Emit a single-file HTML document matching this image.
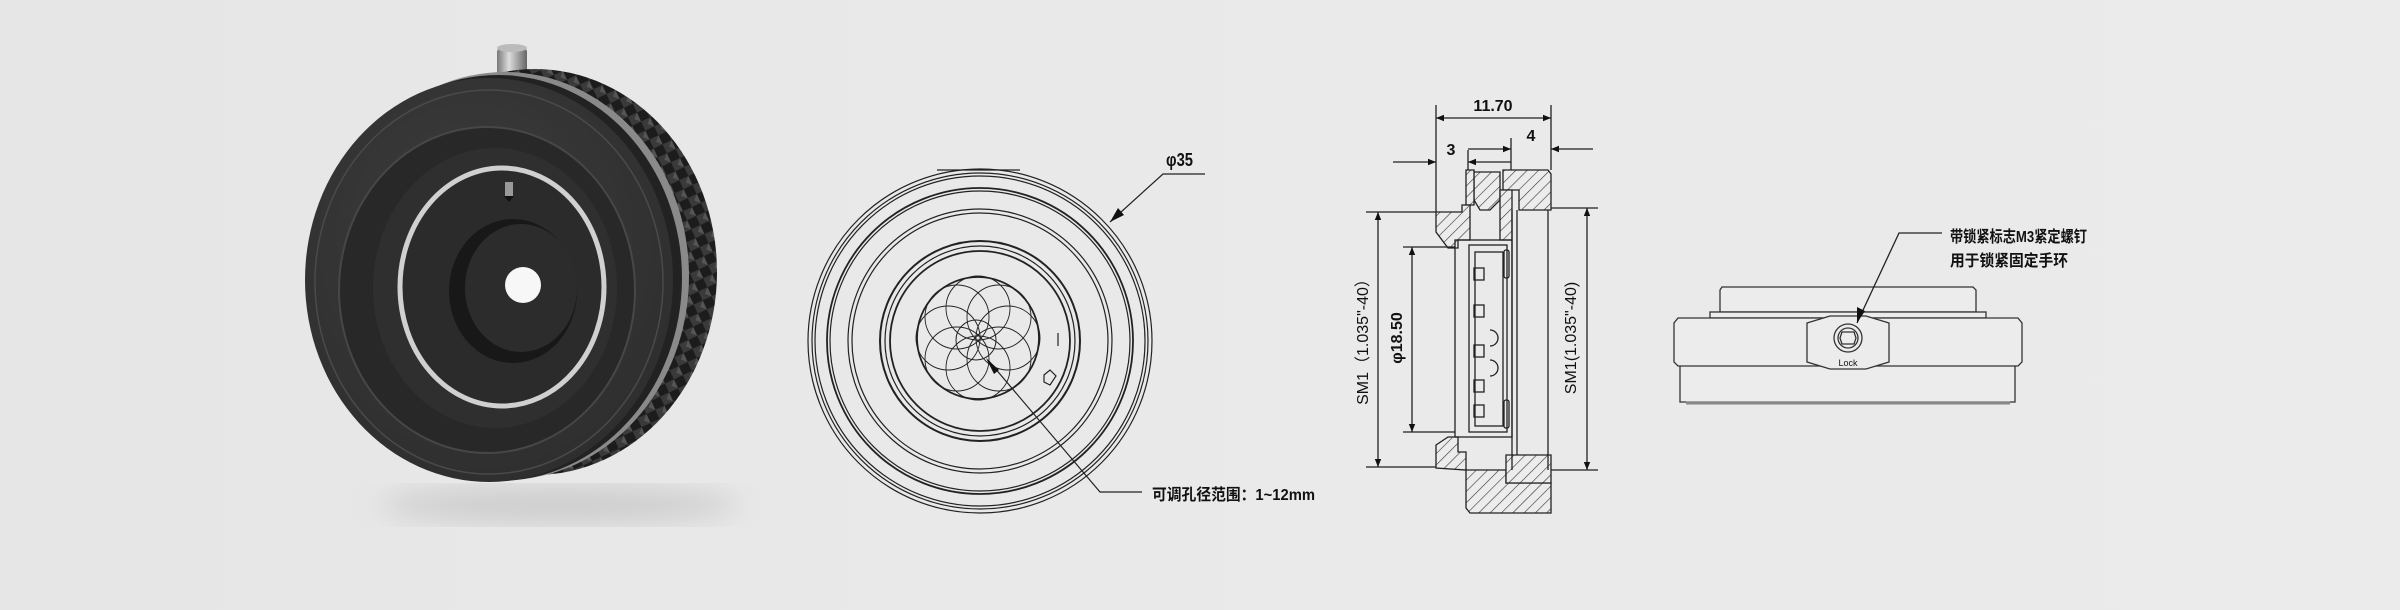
<!DOCTYPE html>
<html><head><meta charset="utf-8"><style>
html,body{margin:0;padding:0;background:#e9e9e9;}
svg{display:block}
text{font-family:"Liberation Sans","Noto Sans CJK SC",sans-serif;fill:#111;}
</style></head><body>
<svg width="2400" height="610" viewBox="0 0 2400 610" xmlns="http://www.w3.org/2000/svg">
<defs>
<linearGradient id="bg" x1="0" x2="1" y1="0" y2="0"><stop offset="0" stop-color="#e6e6e6"/><stop offset="0.4" stop-color="#e9e9e9"/><stop offset="1" stop-color="#ebebeb"/></linearGradient>
<radialGradient id="face" cx="0.45" cy="0.4" r="0.7"><stop offset="0" stop-color="#3e3e3e"/><stop offset="1" stop-color="#2c2c2c"/></radialGradient>
<linearGradient id="pin" x1="0" x2="1"><stop offset="0" stop-color="#777"/><stop offset="0.4" stop-color="#ddd"/><stop offset="1" stop-color="#666"/></linearGradient>
<pattern id="knurl" width="14" height="14" patternUnits="userSpaceOnUse" patternTransform="rotate(20)"><rect width="14" height="14" fill="#1c1c1c"/><path d="M0 7 L7 0 L14 7 L7 14 Z" fill="#3a3a3a"/><path d="M7 0 L14 7 L7 7Z" fill="#555"/></pattern>
<pattern id="hatch" width="8" height="8" patternUnits="userSpaceOnUse" patternTransform="rotate(45)"><rect width="8" height="8" fill="#ececec"/><line x1="0" y1="0" x2="0" y2="8" stroke="#333" stroke-width="1.2"/></pattern>
<filter id="blur"><feGaussianBlur stdDeviation="14"/></filter>
<marker id="ar" viewBox="0 0 10 10" refX="10" refY="5" markerWidth="14" markerHeight="8" orient="auto-start-reverse" markerUnits="userSpaceOnUse"><path d="M0 1 L10 5 L0 9 Z" fill="#111"/></marker>
</defs>
<rect width="2400" height="610" fill="url(#bg)"/>

<!-- PHOTO -->
<ellipse cx="560" cy="505" rx="180" ry="18" fill="#b0b0b0" filter="url(#blur)" opacity="0.5"/>
<rect x="497" y="48" width="30" height="30" rx="4" fill="url(#pin)"/>
<ellipse cx="512" cy="48" rx="15" ry="4" fill="#bbb"/>
<ellipse cx="535" cy="272" rx="182" ry="203" fill="url(#knurl)"/>
<ellipse cx="505" cy="276" rx="184" ry="204" fill="#8a8a8a"/>
<ellipse cx="498" cy="278" rx="184" ry="203" fill="#222"/>
<ellipse cx="489" cy="280" rx="184" ry="202" fill="url(#face)"/>
<ellipse cx="489" cy="282" rx="174" ry="192" fill="none" stroke="#4a4a4a" stroke-width="1.5"/>
<ellipse cx="487" cy="290" rx="148" ry="163" fill="#282828" stroke="#474747" stroke-width="2"/>
<ellipse cx="495" cy="288" rx="122" ry="140" fill="#2f2f2f"/>
<ellipse cx="502" cy="287" rx="102" ry="119" fill="#2b2b2b" stroke="#d0d0d0" stroke-width="5"/>
<ellipse cx="513" cy="291" rx="64" ry="72" fill="#181818"/>
<ellipse cx="521" cy="288" rx="56" ry="64" fill="#2c2c2c"/>
<circle cx="523" cy="285" r="18" fill="#f7f7f7"/>
<rect x="505" y="182" width="8" height="14" fill="#999"/><path d="M504 196 L514 196 L509 202Z" fill="#111"/>

<!-- FRONT VIEW -->
<g fill="none" stroke="#222" stroke-width="1.2">
<path d="M937 170 L1020 170"/>
<circle cx="980" cy="341" r="172"/>
<circle cx="980" cy="341" r="168"/>
<circle cx="980" cy="341" r="165"/>
<circle cx="980" cy="341" r="153" stroke-width="1.8"/>
<circle cx="980" cy="341" r="150"/>
<circle cx="980" cy="341" r="132"/>
<circle cx="980" cy="341" r="128"/>
<circle cx="980" cy="341" r="100" stroke-width="2"/>
<circle cx="980" cy="341" r="95"/>
<circle cx="980" cy="341" r="90" stroke-width="1.8"/>
<circle cx="978" cy="338" r="61" stroke-width="1.8"/>
<circle cx="976" cy="340" r="20" stroke-width="1"/>
<g stroke-width="0.9">
<circle cx="978" cy="308" r="32"/><circle cx="999" cy="317" r="32"/><circle cx="1008" cy="338" r="32"/>
<circle cx="999" cy="359" r="32"/><circle cx="978" cy="368" r="32"/><circle cx="957" cy="359" r="32"/>
<circle cx="948" cy="338" r="32"/><circle cx="957" cy="317" r="32"/>
</g>
<path d="M1044 375 L1050 370 L1056 376 L1050 385 L1044 382Z"/>
<path d="M1058 333 L1058 346"/>
<path d="M988 360 L1100 492 L1142 492"/>
<path d="M1110 222 L1163 174 L1205 174"/>
</g>
<path d="M986 358 L999 370 L994 374Z" fill="#111"/>
<path d="M1110 222 L1118 208 L1124 215Z" fill="#111"/>
<text x="1166" y="166" font-size="18" font-weight="bold" textLength="27" lengthAdjust="spacingAndGlyphs">φ35</text>
<text x="1152" y="500" font-size="16" font-weight="bold" textLength="163" lengthAdjust="spacingAndGlyphs">可调孔径范围：1~12mm</text>

<!-- SECTION VIEW -->
<g fill="url(#hatch)" stroke="#222" stroke-width="1.3">
<path d="M1503 170 L1548 170 L1551 174 L1551 210 L1519 210 L1519 190 L1503 190 Z"/>
<path d="M1474 172 L1500 172 L1500 200 L1490 210 L1480 210 L1474 200 Z"/>
<path d="M1466 170 L1474 170 L1474 205 L1466 205 Z"/>
<path d="M1436 212 L1462 212 L1462 205 L1470 205 L1470 240 L1458 240 L1458 248 L1448 248 L1436 232 Z"/>
<path d="M1500 190 L1512 190 L1512 240 L1500 240 Z"/>
<path d="M1436 445 L1448 437 L1458 437 L1458 452 L1466 452 L1466 470 L1436 468 Z"/>
<path d="M1466 470 L1506 470 L1506 483 L1551 483 L1551 513 L1470 513 L1466 508 Z"/>
<path d="M1506 455 L1551 455 L1551 483 L1506 483 Z"/>
</g>
<g fill="none" stroke="#222" stroke-width="1.3">
<rect x="1455" y="240" width="57" height="197"/>
<rect x="1469" y="245" width="38" height="187"/>
<rect x="1475" y="252" width="28" height="174"/>
<path d="M1512 210 L1512 470 M1517 210 L1517 455 M1548 210 L1548 470"/>
<rect x="1474" y="268" width="10" height="12"/><rect x="1474" y="305" width="10" height="12"/>
<rect x="1474" y="345" width="10" height="12"/><rect x="1474" y="380" width="10" height="12"/>
<rect x="1474" y="405" width="10" height="12"/>
<path d="M1490 330 a8 8 0 0 1 0 16 M1490 360 a8 8 0 0 1 0 16"/>
<rect x="1504" y="250" width="5" height="28" rx="2"/><rect x="1504" y="400" width="5" height="28" rx="2"/>
<path d="M1436 105 L1436 212 M1551 105 L1551 170 M1468 150 L1468 170 M1511 138 L1511 170"/>
<path d="M1436 118 L1551 118" marker-start="url(#ar)" marker-end="url(#ar)"/>
<path d="M1468 149 L1511 149" marker-end="url(#ar)"/>
<path d="M1511 162 L1468 162" marker-end="url(#ar)"/>
<path d="M1393 162 L1436 162" marker-end="url(#ar)"/>
<path d="M1593 149 L1551 149" marker-end="url(#ar)"/>
<path d="M1366 212 L1436 212 M1366 467 L1436 467"/>
<path d="M1378 212 L1378 467" marker-start="url(#ar)" marker-end="url(#ar)"/>
<path d="M1403 247 L1455 247 M1403 432 L1455 432"/>
<path d="M1412 247 L1412 432" marker-start="url(#ar)" marker-end="url(#ar)"/>
<path d="M1551 208 L1598 208 M1551 470 L1598 470"/>
<path d="M1587 208 L1587 470" marker-start="url(#ar)" marker-end="url(#ar)"/>
</g>
<text x="1493" y="111" font-size="16" font-weight="bold" text-anchor="middle">11.70</text>
<text x="1451" y="155" font-size="16" font-weight="bold" text-anchor="middle">3</text>
<text x="1531" y="141" font-size="16" font-weight="bold" text-anchor="middle">4</text>
<text transform="translate(1368,338) rotate(-90)" font-size="16" text-anchor="middle">SM1（1.035"-40）</text>
<text transform="translate(1402,338) rotate(-90)" font-size="16" font-weight="bold" text-anchor="middle">φ18.50</text>
<text transform="translate(1576,338) rotate(-90)" font-size="16" text-anchor="middle">SM1(1.035"-40)</text>

<!-- SIDE VIEW -->
<g fill="#ececec" stroke="#333" stroke-width="1.3">
<path d="M1722 287 L1973 287 L1976 290 L1976 312 L1720 312 L1720 290 Z"/>
<rect x="1710" y="312" width="276" height="6"/>
<path d="M1680 402 L2015 402 L2015 365 L1680 365 Z"/>
<path d="M1678 318 L2018 318 L2022 323 L2022 362 L2018 366 L1678 366 L1674 362 L1674 323 Z"/>
<path d="M1807 323 L1830 316 L1866 316 L1889 323 L1889 362 L1866 369 L1830 369 L1807 362 Z"/>
<circle cx="1848" cy="338" r="14"/><circle cx="1848" cy="338" r="10"/>
<path d="M1842 332 L1854 332 L1856 338 L1854 344 L1842 344 L1840 338Z"/>
</g>
<path d="M1686 403 L2010 403" stroke="#888" stroke-width="3"/>
<path d="M1857 323 L1899 233 L1942 233" fill="none" stroke="#222" stroke-width="1.3"/>
<path d="M1857 323 L1857 307 L1865 311Z" fill="#111"/>
<text x="1848" y="366" font-size="9" text-anchor="middle">Lock</text>
<text x="1950" y="242" font-size="16" font-weight="bold" textLength="137" lengthAdjust="spacingAndGlyphs">带锁紧标志M3紧定螺钉</text>
<text x="1950" y="266" font-size="16" font-weight="bold" textLength="118" lengthAdjust="spacingAndGlyphs">用于锁紧固定手环</text>
</svg>
</body></html>
